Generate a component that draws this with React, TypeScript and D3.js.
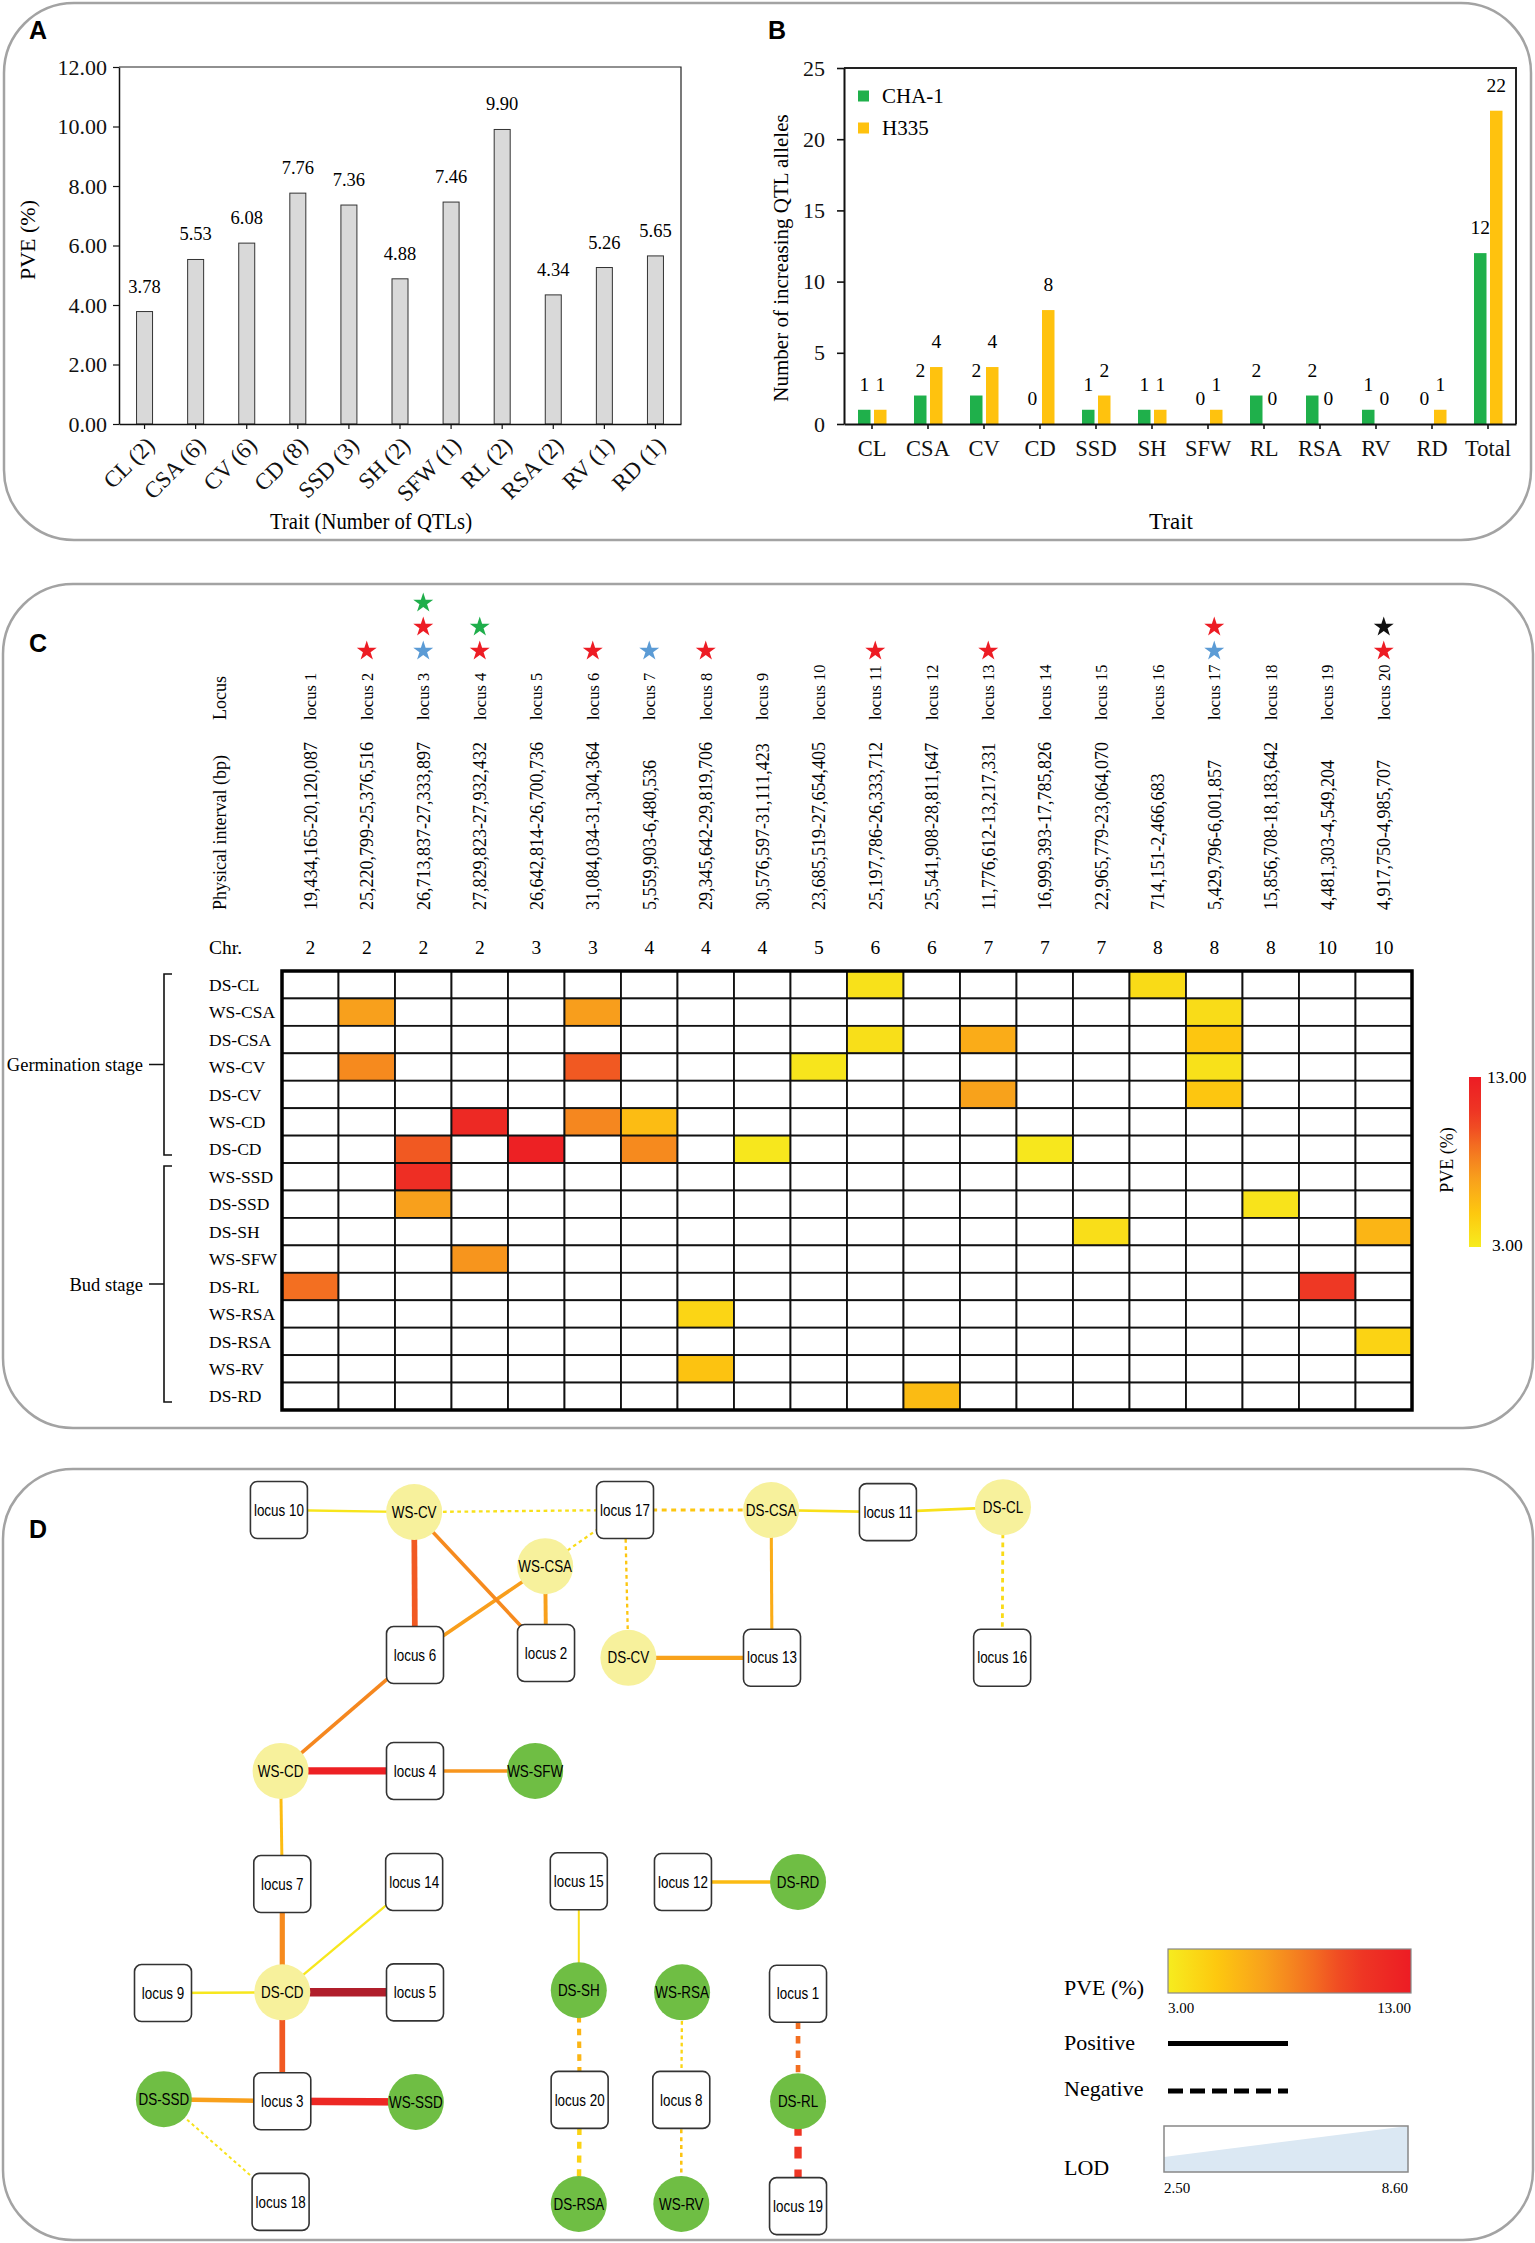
import { useEffect, useRef } from "react";
import * as d3 from "d3";

const W = 1535;
const H = 2243;
const SERIF = "'Liberation Serif', 'Times New Roman', Times, serif";
const SANS = "'Liberation Sans', Arial, Helvetica, sans-serif";

// ---- panel A: mean PVE per trait
const traitsA = ["CL (2)", "CSA (6)", "CV (6)", "CD (8)", "SSD (3)", "SH (2)", "SFW (1)", "RL (2)", "RSA (2)", "RV (1)", "RD (1)"];
const meanPve = [3.78, 5.53, 6.08, 7.76, 7.36, 4.88, 7.46, 9.9, 4.34, 5.26, 5.65];

// ---- panel B: number of increasing alleles per parent
const traitsB = ["CL", "CSA", "CV", "CD", "SSD", "SH", "SFW", "RL", "RSA", "RV", "RD", "Total"];
const cha1Alleles = [1, 2, 2, 0, 1, 1, 0, 2, 2, 1, 0, 12];
const h335Alleles = [1, 4, 4, 8, 2, 1, 1, 0, 0, 0, 1, 22];
const parents = ["CHA-1", "H335"];

// ---- panel C: loci
const lociNames = ["locus 1", "locus 2", "locus 3", "locus 4", "locus 5", "locus 6", "locus 7", "locus 8", "locus 9", "locus 10",
  "locus 11", "locus 12", "locus 13", "locus 14", "locus 15", "locus 16", "locus 17", "locus 18", "locus 19", "locus 20"];
const intervals = ["19,434,165-20,120,087", "25,220,799-25,376,516", "26,713,837-27,333,897", "27,829,823-27,932,432",
  "26,642,814-26,700,736", "31,084,034-31,304,364", "5,559,903-6,480,536", "29,345,642-29,819,706", "30,576,597-31,111,423",
  "23,685,519-27,654,405", "25,197,786-26,333,712", "25,541,908-28,811,647", "11,776,612-13,217,331", "16,999,393-17,785,826",
  "22,965,779-23,064,070", "714,151-2,466,683", "5,429,796-6,001,857", "15,856,708-18,183,642", "4,481,303-4,549,204",
  "4,917,750-4,985,707"];
const chromosomes = [2, 2, 2, 2, 3, 3, 4, 4, 4, 5, 6, 6, 7, 7, 7, 8, 8, 8, 10, 10];
const heatTraits = ["DS-CL", "WS-CSA", "DS-CSA", "WS-CV", "DS-CV", "WS-CD", "DS-CD", "WS-SSD", "DS-SSD", "DS-SH", "WS-SFW",
  "DS-RL", "WS-RSA", "DS-RSA", "WS-RV", "DS-RD"];
const germinationTraits = ["DS-CL", "WS-CSA", "DS-CSA", "WS-CV", "DS-CV", "WS-CD", "DS-CD"];
// stars over loci, listed bottom to top
const starMarks: [number, string[]][] = [
  [2, ["red"]], [3, ["blue", "red", "green"]], [4, ["red", "green"]], [6, ["red"]], [7, ["blue"]], [8, ["red"]],
  [11, ["red"]], [13, ["red"]], [17, ["blue", "red"]], [20, ["red", "black"]],
];

// trait, locus, PVE (%), LOD, effect (1 positive, -1 negative)
const qtls: [string, number, number, number, number][] = [
  ["DS-CL", 11, 3.6, 3.2, 1],
  ["DS-CL", 16, 3.96, 3.3, -1],
  ["WS-CSA", 2, 7.0, 4.3, 1],
  ["WS-CSA", 6, 7.1, 4.0, 1],
  ["WS-CSA", 17, 3.9, 2.7, -1],
  ["DS-CSA", 11, 3.7, 3.2, 1],
  ["DS-CSA", 13, 6.4, 3.5, 1],
  ["DS-CSA", 17, 5.1, 3.5, -1],
  ["WS-CV", 2, 7.9, 4.0, 1],
  ["WS-CV", 6, 9.6, 6.0, 1],
  ["WS-CV", 10, 3.4, 2.8, 1],
  ["WS-CV", 17, 3.6, 2.8, -1],
  ["DS-CV", 13, 6.9, 4.6, 1],
  ["DS-CV", 17, 5.1, 2.8, -1],
  ["WS-CD", 4, 12.0, 7.5, 1],
  ["WS-CD", 6, 8.0, 4.0, 1],
  ["WS-CD", 7, 5.6, 3.4, 1],
  ["DS-CD", 3, 9.6, 6.0, 1],
  ["DS-CD", 5, 12.6, 8.6, 1],
  ["DS-CD", 7, 7.9, 5.5, 1],
  ["DS-CD", 9, 3.3, 3.0, 1],
  ["DS-CD", 14, 3.3, 2.8, 1],
  ["WS-SSD", 3, 11.6, 7.5, 1],
  ["DS-SSD", 3, 7.0, 4.8, 1],
  ["DS-SSD", 18, 3.5, 2.5, -1],
  ["DS-SH", 15, 3.8, 2.5, 1],
  ["DS-SH", 20, 5.96, 4.5, -1],
  ["WS-SFW", 4, 7.46, 3.8, 1],
  ["DS-RL", 1, 8.9, 5.0, -1],
  ["DS-RL", 19, 10.9, 7.5, -1],
  ["WS-RSA", 8, 4.3, 2.8, -1],
  ["DS-RSA", 20, 4.38, 4.8, -1],
  ["WS-RV", 8, 5.26, 3.0, -1],
  ["DS-RD", 12, 5.65, 3.8, 1],
];

// ---- panel D: network layout (unit square)
const netLayout: Record<string, [number, number]> = {
  "locus 10": [0.138, 0.0], "WS-CV": [0.299, 0.003], "locus 17": [0.55, 0.0], "DS-CSA": [0.724, 0.0],
  "locus 11": [0.863, 0.003], "DS-CL": [1.0, -0.004], "WS-CSA": [0.455, 0.081],
  "locus 6": [0.3, 0.209], "locus 2": [0.456, 0.206], "DS-CV": [0.554, 0.213], "locus 13": [0.725, 0.213], "locus 16": [0.999, 0.213],
  "WS-CD": [0.14, 0.376], "locus 4": [0.3, 0.376], "WS-SFW": [0.443, 0.376],
  "locus 7": [0.142, 0.539], "locus 14": [0.299, 0.536], "locus 15": [0.495, 0.535], "locus 12": [0.619, 0.536], "DS-RD": [0.756, 0.536],
  "locus 9": [0.0, 0.696], "DS-CD": [0.142, 0.695], "locus 5": [0.3, 0.695], "DS-SH": [0.495, 0.692], "WS-RSA": [0.618, 0.695], "locus 1": [0.756, 0.697],
  "DS-SSD": [0.001, 0.849], "locus 3": [0.142, 0.852], "WS-SSD": [0.301, 0.853], "locus 20": [0.496, 0.85], "locus 8": [0.617, 0.85], "DS-RL": [0.756, 0.852],
  "locus 18": [0.14, 0.997], "DS-RSA": [0.495, 1.0], "WS-RV": [0.617, 1.0], "locus 19": [0.756, 1.003],
};
const pveRange = [3, 13];
const lodRange = [2.5, 8.6];

const heatColor = d3.scaleLinear<string>()
  .domain([3, 5, 7, 8.5, 10.5, 13])
  .range(["#f6ec1f", "#fdc80f", "#f8a01c", "#f47b20", "#ee3d24", "#ed1c24"])
  .clamp(true);
const netColor = d3.scaleLinear<string>()
  .domain([3, 5, 7, 8.5, 10.5, 12.2, 12.6])
  .range(["#f6ec1f", "#fdc80f", "#f8a01c", "#f47b20", "#ee3d24", "#ed1c24", "#b01e2b"])
  .clamp(true);
const starColor: Record<string, string> = { red: "#ed1c24", blue: "#5b9bd5", green: "#1fae4b", black: "#111" };

type Sel = d3.Selection<SVGSVGElement, unknown, null, undefined>;

const styleAxis = (g: d3.Selection<SVGGElement, unknown, null, undefined>, size: number, width: number) => {
  g.selectAll(".domain").attr("stroke", "#111").attr("stroke-width", width);
  g.selectAll(".tick line").attr("stroke", "#111").attr("stroke-width", width * 0.8);
  g.selectAll(".tick text").attr("font-family", SERIF).attr("font-size", size).attr("fill", "#111");
};

const drawFrames = (svg: Sel) => {
  const frames = [
    { x: 4, y: 3, w: 1527, h: 537 },
    { x: 3, y: 584, w: 1530, h: 844 },
    { x: 3, y: 1469, w: 1530, h: 771 },
  ];
  svg.selectAll("rect.frame").data(frames).join("rect")
    .attr("class", "frame")
    .attr("x", d => d.x).attr("y", d => d.y).attr("width", d => d.w).attr("height", d => d.h)
    .attr("rx", 70).attr("fill", "none").attr("stroke", "#a3a3a3").attr("stroke-width", 2.5);
  const letters = [{ t: "A", x: 29, y: 39 }, { t: "B", x: 768, y: 39 }, { t: "C", x: 29, y: 652 }, { t: "D", x: 29, y: 1538 }];
  svg.selectAll("text.letter").data(letters).join("text")
    .attr("class", "letter").attr("x", d => d.x).attr("y", d => d.y)
    .attr("font-family", SANS).attr("font-weight", "bold").attr("font-size", 25).text(d => d.t);
};

const drawA = (svg: Sel) => {
  const g = svg.append("g");
  const x = d3.scaleBand().domain(traitsA).range([119, 681]);
  const y = d3.scaleLinear().domain([0, 12]).range([424, 67]);
  g.append("path").attr("d", `M${x.range()[0]},${y(12)}H${x.range()[1]}V${y(0)}`)
    .attr("fill", "none").attr("stroke", "#222").attr("stroke-width", 1.2);
  g.selectAll("rect.bar").data(meanPve).join("rect")
    .attr("x", (_, i) => (x(traitsA[i]) as number) + x.bandwidth() / 2 - 8)
    .attr("width", 16)
    .attr("y", d => y(d)).attr("height", d => y(0) - y(d))
    .attr("fill", "#d9d9d9").attr("stroke", "#333").attr("stroke-width", 1);
  g.selectAll("text.val").data(meanPve).join("text")
    .attr("x", (_, i) => (x(traitsA[i]) as number) + x.bandwidth() / 2)
    .attr("y", d => y(d) - 19)
    .attr("text-anchor", "middle").attr("font-family", SERIF).attr("font-size", 18.5)
    .text(d => d.toFixed(2));
  const ya = g.append("g").attr("transform", `translate(${x.range()[0]},0)`)
    .call(d3.axisLeft(y).tickValues([0, 2, 4, 6, 8, 10, 12]).tickFormat(d3.format(".2f")).tickSize(6).tickPadding(6).tickSizeOuter(0));
  styleAxis(ya, 22, 1.5);
  const xa = g.append("g").attr("transform", `translate(0,${y(0)})`)
    .call(d3.axisBottom(x).tickSize(5).tickSizeOuter(0));
  styleAxis(xa, 23, 1.5);
  xa.selectAll(".tick text").attr("text-anchor", "end").attr("x", -8).attr("y", 16).attr("dy", "0.35em")
    .attr("transform", "rotate(-45)");
  g.append("text").attr("transform", "translate(27,240) rotate(-90)").attr("text-anchor", "middle")
    .attr("dy", "0.35em").attr("font-family", SERIF).attr("font-size", 22).text("PVE (%)");
  g.append("text").attr("transform", "translate(371,529) scale(0.9,1)").attr("text-anchor", "middle")
    .attr("font-family", SERIF).attr("font-size", 23).text("Trait (Number of QTLs)");
};

const drawB = (svg: Sel) => {
  const g = svg.append("g");
  const x = d3.scaleBand().domain(traitsB).range([844, 1516]);
  const y = d3.scaleLinear().domain([0, 25]).range([424, 68]);
  const colors = d3.scaleOrdinal<string>().domain(parents).range(["#1fb04b", "#ffc20e"]);
  g.append("path").attr("d", `M${x.range()[0]},${y(25)}H${x.range()[1]}V${y(0)}`)
    .attr("fill", "none").attr("stroke", "#222").attr("stroke-width", 2);
  const series = [cha1Alleles, h335Alleles];
  const offsets = [-14, 2];
  const labelShift = [-7.75, 8.25];
  series.forEach((vals, s) => {
    g.selectAll(`rect.b${s}`).data(vals).join("rect")
      .attr("x", (_, i) => (x(traitsB[i]) as number) + x.bandwidth() / 2 + offsets[s])
      .attr("width", 12.5)
      .attr("y", d => y(d)).attr("height", d => y(0) - y(d))
      .attr("fill", colors(parents[s]));
    g.selectAll(`text.v${s}`).data(vals).join("text")
      .attr("x", (_, i) => (x(traitsB[i]) as number) + x.bandwidth() / 2 + labelShift[s])
      .attr("y", d => y(d) - 19)
      .attr("text-anchor", "middle").attr("font-family", SERIF).attr("font-size", 19.5)
      .text(d => d);
  });
  const ya = g.append("g").attr("transform", `translate(${x.range()[0]},0)`)
    .call(d3.axisLeft(y).tickValues([0, 5, 10, 15, 20, 25]).tickSize(7).tickPadding(12).tickSizeOuter(0));
  styleAxis(ya, 22, 2);
  const xa = g.append("g").attr("transform", `translate(0,${y(0)})`)
    .call(d3.axisBottom(x).tickSize(5).tickPadding(11).tickSizeOuter(0));
  styleAxis(xa, 22.5, 2);
  const legend = g.selectAll("g.leg").data(parents).join("g")
    .attr("transform", (_, i) => `translate(858,${96 + i * 32})`);
  legend.append("rect").attr("x", 0).attr("y", -5.5).attr("width", 11).attr("height", 11).attr("fill", d => colors(d));
  legend.append("text").attr("x", 24).attr("dy", "0.35em").attr("font-family", SERIF).attr("font-size", 21).text(d => d);
  g.append("text").attr("transform", "translate(781,258) rotate(-90)").attr("text-anchor", "middle")
    .attr("dy", "0.35em").attr("font-family", SERIF).attr("font-size", 21).text("Number of increasing QTL alleles");
  g.append("text").attr("x", 1171).attr("y", 529).attr("text-anchor", "middle")
    .attr("font-family", SERIF).attr("font-size", 23).text("Trait");
};

const drawC = (svg: Sel) => {
  const g = svg.append("g");
  const x = d3.scaleBand().domain(lociNames).range([282, 1412]);
  const y = d3.scaleBand().domain(heatTraits).range([971, 1410]);
  const cx = (l: string) => (x(l) as number) + x.bandwidth() / 2;
  const pveOf = new Map(qtls.map(q => [`${q[0]}|${q[1]}`, q[2]]));
  const cells = heatTraits.flatMap(t => lociNames.map((l, i) => ({ t, l, v: pveOf.get(`${t}|${i + 1}`) })));
  g.selectAll("rect.cell").data(cells).join("rect")
    .attr("x", d => x(d.l) as number).attr("y", d => y(d.t) as number)
    .attr("width", x.bandwidth()).attr("height", y.bandwidth())
    .attr("fill", d => (d.v === undefined ? "#fff" : heatColor(d.v)))
    .attr("stroke", "#111").attr("stroke-width", 1.8);
  g.append("rect").attr("x", x.range()[0]).attr("y", y.range()[0])
    .attr("width", x.range()[1] - x.range()[0]).attr("height", y.range()[1] - y.range()[0])
    .attr("fill", "none").attr("stroke", "#000").attr("stroke-width", 3.5);

  // row labels
  g.selectAll("text.row").data(heatTraits).join("text")
    .attr("x", 209).attr("y", d => (y(d) as number) + y.bandwidth() / 2).attr("dy", "0.35em")
    .attr("font-family", SERIF).attr("font-size", 17.5).text(d => d);

  // column headers
  g.selectAll("text.loc").data(lociNames).join("text")
    .attr("transform", d => `translate(${cx(d)},720) rotate(-90)`).attr("dy", "0.35em")
    .attr("font-family", SERIF).attr("font-size", 16.5).text(d => d);
  g.selectAll("text.int").data(intervals).join("text")
    .attr("transform", (_, i) => `translate(${cx(lociNames[i])},910) rotate(-90)`).attr("dy", "0.35em")
    .attr("font-family", SERIF).attr("font-size", 18).text(d => d);
  g.selectAll("text.chr").data(chromosomes).join("text")
    .attr("x", (_, i) => cx(lociNames[i])).attr("y", 947).attr("dy", "0.35em").attr("text-anchor", "middle")
    .attr("font-family", SERIF).attr("font-size", 19.5).text(d => d);
  g.append("text").attr("transform", "translate(220,720) rotate(-90)").attr("dy", "0.35em")
    .attr("font-family", SERIF).attr("font-size", 18).text("Locus");
  g.append("text").attr("transform", "translate(220,910) rotate(-90)").attr("dy", "0.35em")
    .attr("font-family", SERIF).attr("font-size", 18).text("Physical interval (bp)");
  g.append("text").attr("x", 209).attr("y", 947).attr("dy", "0.35em")
    .attr("font-family", SERIF).attr("font-size", 19.5).text("Chr.");

  // stars
  const star = d3.symbol(d3.symbolStar, 124);
  starMarks.forEach(([locus, cols]) => {
    cols.forEach((c, k) => {
      g.append("path").attr("d", star()).attr("fill", starColor[c])
        .attr("transform", `translate(${cx(lociNames[locus - 1])},${651 - k * 24})`);
    });
  });

  // stage brackets
  const budTraits = heatTraits.filter(t => !germinationTraits.includes(t));
  const stages = [
    { name: "Germination stage", top: y(germinationTraits[0]) as number, bottom: (y(germinationTraits[germinationTraits.length - 1]) as number) + y.bandwidth() },
    { name: "Bud stage", top: y(budTraits[0]) as number, bottom: (y(budTraits[budTraits.length - 1]) as number) + y.bandwidth() },
  ];
  stages.forEach(s => {
    const t = s.top + 3, b = s.bottom - 8, m = (t + b) / 2;
    g.append("path").attr("d", `M172,${t}H164V${b}H172M164,${m}H149`)
      .attr("fill", "none").attr("stroke", "#111").attr("stroke-width", 1.6);
    g.append("text").attr("x", 143).attr("y", m).attr("dy", "0.35em").attr("text-anchor", "end")
      .attr("font-family", SERIF).attr("font-size", 18.5).text(s.name);
  });

  // color bar
  const defs = svg.append("defs");
  const vg = defs.append("linearGradient").attr("id", "pveV").attr("x1", 0).attr("y1", 1).attr("x2", 0).attr("y2", 0);
  d3.range(0, 1.0001, 0.1).forEach(t => {
    vg.append("stop").attr("offset", t).attr("stop-color", heatColor(pveRange[0] + t * (pveRange[1] - pveRange[0])));
  });
  const cb = d3.scaleLinear().domain(pveRange).range([1247, 1077]);
  g.append("rect").attr("x", 1469).attr("y", cb(13)).attr("width", 12).attr("height", cb(3) - cb(13)).attr("fill", "url(#pveV)");
  g.append("text").attr("x", 1487).attr("y", cb(13)).attr("dy", "0.35em").attr("font-family", SERIF).attr("font-size", 17.5).text(d3.format(".2f")(pveRange[1]));
  g.append("text").attr("x", 1492).attr("y", cb(3) - 2).attr("dy", "0.35em").attr("font-family", SERIF).attr("font-size", 17.5).text(d3.format(".2f")(pveRange[0]));
  g.append("text").attr("transform", "translate(1447,1160) rotate(-90)").attr("text-anchor", "middle").attr("dy", "0.35em")
    .attr("font-family", SERIF).attr("font-size", 18).text("PVE (%)");
};

const drawD = (svg: Sel) => {
  const g = svg.append("g");
  const x = d3.scaleLinear().domain([0, 1]).range([163, 1003]);
  const y = d3.scaleLinear().domain([0, 1]).range([1510, 2204]);
  const width = d3.scaleLinear().domain(lodRange).range([2, 8.5]);
  const pos = (n: string) => [x(netLayout[n][0]), y(netLayout[n][1])];

  g.selectAll("line.edge").data(qtls).join("line")
    .attr("x1", d => pos(d[0])[0]).attr("y1", d => pos(d[0])[1])
    .attr("x2", d => pos(`locus ${d[1]}`)[0]).attr("y2", d => pos(`locus ${d[1]}`)[1])
    .attr("stroke", d => netColor(d[2]))
    .attr("stroke-width", d => width(d[3]))
    .attr("stroke-dasharray", d => (d[4] < 0 ? `${width(d[3]) * 1.6},${width(d[3]) * 1.5}` : null));

  const loci = g.selectAll("g.locus").data(lociNames).join("g")
    .attr("transform", d => `translate(${pos(d)[0]},${pos(d)[1]})`);
  loci.append("rect").attr("x", -28.5).attr("y", -28.5).attr("width", 57).attr("height", 57).attr("rx", 7)
    .attr("fill", "#fff").attr("stroke", "#333").attr("stroke-width", 1.6);
  loci.append("text").attr("text-anchor", "middle").attr("dy", "0.35em").attr("transform", "scale(0.84,1)")
    .attr("font-family", SANS).attr("font-size", 16).text(d => d);

  const traits = g.selectAll("g.trait").data(heatTraits).join("g")
    .attr("transform", d => `translate(${pos(d)[0]},${pos(d)[1]})`);
  traits.append("circle").attr("r", 28)
    .attr("fill", d => (germinationTraits.includes(d) ? "#f7f19c" : "#6fbe44"));
  traits.append("text").attr("text-anchor", "middle").attr("dy", "0.35em").attr("transform", "scale(0.84,1)")
    .attr("font-family", SANS).attr("font-size", 16).text(d => d);

  // legend
  const defs = svg.append("defs");
  const hg = defs.append("linearGradient").attr("id", "pveH").attr("x1", 0).attr("y1", 0).attr("x2", 1).attr("y2", 0);
  d3.range(0, 1.0001, 0.1).forEach(t => {
    hg.append("stop").attr("offset", t).attr("stop-color", heatColor(pveRange[0] + t * (pveRange[1] - pveRange[0])));
  });
  const lg = g.append("g");
  const label = (t: string, yy: number) => lg.append("text").attr("x", 1064).attr("y", yy).attr("dy", "0.35em")
    .attr("font-family", SERIF).attr("font-size", 22).text(t);
  label("PVE (%)", 1987);
  label("Positive", 2042);
  label("Negative", 2088);
  label("LOD", 2167);
  const px = d3.scaleLinear().domain(pveRange).range([1168, 1411]);
  lg.append("rect").attr("x", px(3)).attr("y", 1949).attr("width", px(13) - px(3)).attr("height", 44)
    .attr("fill", "url(#pveH)").attr("stroke", "#888").attr("stroke-width", 1.2);
  lg.append("text").attr("x", px(3)).attr("y", 2008).attr("dy", "0.35em").attr("font-family", SERIF).attr("font-size", 15).text(d3.format(".2f")(pveRange[0]));
  lg.append("text").attr("x", px(13)).attr("y", 2008).attr("dy", "0.35em").attr("text-anchor", "end").attr("font-family", SERIF).attr("font-size", 15).text(d3.format(".2f")(pveRange[1]));
  lg.append("line").attr("x1", 1168).attr("x2", 1288).attr("y1", 2043.5).attr("y2", 2043.5).attr("stroke", "#000").attr("stroke-width", 5);
  lg.append("line").attr("x1", 1168).attr("x2", 1288).attr("y1", 2091).attr("y2", 2091).attr("stroke", "#000").attr("stroke-width", 5)
    .attr("stroke-dasharray", "15,7");
  const lx = d3.scaleLinear().domain(lodRange).range([1164, 1408]);
  const lh = d3.scaleLinear().domain(lodRange).range([15, 46]);
  const base = 2172;
  lg.append("path")
    .attr("d", `M${lx(2.5)},${base - lh(2.5)}L${lx(8.6)},${base - lh(8.6)}V${base}H${lx(2.5)}Z`)
    .attr("fill", "#dbe8f3");
  lg.append("rect").attr("x", lx(2.5)).attr("y", base - lh(8.6)).attr("width", lx(8.6) - lx(2.5)).attr("height", lh(8.6))
    .attr("fill", "none").attr("stroke", "#888").attr("stroke-width", 1.5);
  lg.append("text").attr("x", lx(2.5)).attr("y", 2188).attr("dy", "0.35em").attr("font-family", SERIF).attr("font-size", 15).text(d3.format(".2f")(lodRange[0]));
  lg.append("text").attr("x", lx(8.6)).attr("y", 2188).attr("dy", "0.35em").attr("text-anchor", "end").attr("font-family", SERIF).attr("font-size", 15).text(d3.format(".2f")(lodRange[1]));
};

export default function App() {
  const ref = useRef<SVGSVGElement>(null);
  useEffect(() => {
    const svg = d3.select(ref.current as SVGSVGElement) as Sel;
    svg.selectAll("*").remove();
    drawFrames(svg);
    drawA(svg);
    drawB(svg);
    drawC(svg);
    drawD(svg);
  }, []);
  return (
    <svg ref={ref} width={W} height={H}
      style={{ position: "absolute", left: 0, top: 0, background: "#fff", display: "block" }} />
  );
}
